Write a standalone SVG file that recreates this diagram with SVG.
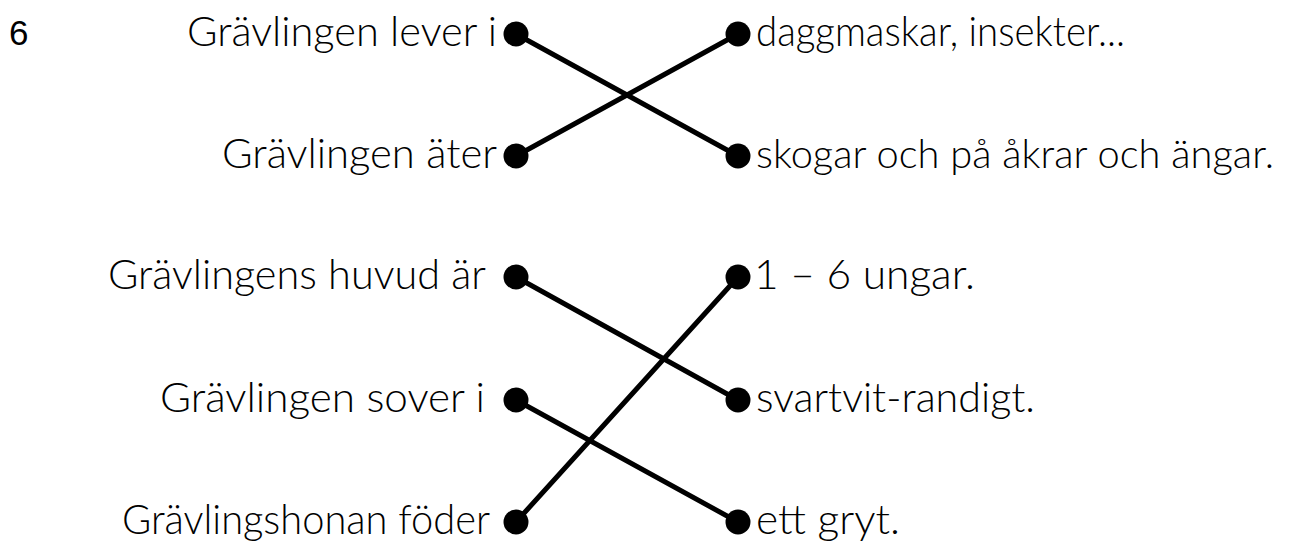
<svg xmlns="http://www.w3.org/2000/svg" width="1290" height="547" viewBox="0 0 1290 547">
<style>
text{font-family:"Lato","Open Sans",sans-serif;font-size:42px;font-weight:300;fill:#000}
.l{text-anchor:end}
.dot{fill:#000}
.con line{stroke:#000;stroke-width:5;stroke-linecap:round}
</style>
<rect width="1290" height="547" fill="#fff"/>
<text x="9" y="45" style="font-family:'Liberation Sans',sans-serif;font-size:35px;font-weight:400">6</text>
<g class="con">
<line x1="516" y1="34" x2="738" y2="156"/>
<line x1="516" y1="156" x2="738" y2="34"/>
<line x1="516" y1="277" x2="738" y2="400"/>
<line x1="516" y1="400" x2="738" y2="522"/>
<line x1="516" y1="522" x2="738" y2="277"/>
</g>
<g id="n1"><text class="l" x="497" y="46" textLength="310" lengthAdjust="spacingAndGlyphs">Grävlingen lever i</text><circle class="dot" cx="516" cy="34" r="12.5"/></g>
<g id="n2"><text class="l" x="497" y="168" textLength="275" lengthAdjust="spacingAndGlyphs">Grävlingen äter</text><circle class="dot" cx="516" cy="156" r="12.5"/></g>
<g id="n3"><text class="l" x="486" y="289" textLength="378" lengthAdjust="spacingAndGlyphs">Grävlingens huvud är</text><circle class="dot" cx="516" cy="277" r="12.5"/></g>
<g id="n4"><text class="l" x="485" y="412" textLength="325" lengthAdjust="spacingAndGlyphs">Grävlingen sover i</text><circle class="dot" cx="516" cy="400" r="12.5"/></g>
<g id="n5"><text class="l" x="490" y="534" textLength="368" lengthAdjust="spacingAndGlyphs">Grävlingshonan föder</text><circle class="dot" cx="516" cy="522" r="12.5"/></g>
<g id="m1"><circle class="dot" cx="738" cy="34" r="12.5"/><text x="756" y="46" textLength="369" lengthAdjust="spacingAndGlyphs">daggmaskar, insekter...</text></g>
<g id="m2"><circle class="dot" cx="738" cy="156" r="12.5"/><text x="756" y="168" textLength="518" lengthAdjust="spacingAndGlyphs" style="font-size:40px">skogar och på åkrar och ängar.</text></g>
<g id="m3"><circle class="dot" cx="738" cy="277" r="12.5"/><text x="754" y="289" textLength="221" lengthAdjust="spacingAndGlyphs">1 – 6 ungar.</text></g>
<g id="m4"><circle class="dot" cx="738" cy="400" r="12.5"/><text x="756" y="412" textLength="279" lengthAdjust="spacingAndGlyphs">svartvit-randigt.</text></g>
<g id="m5"><circle class="dot" cx="738" cy="522" r="12.5"/><text x="756" y="534" textLength="144" lengthAdjust="spacingAndGlyphs">ett gryt.</text></g>
</svg>
